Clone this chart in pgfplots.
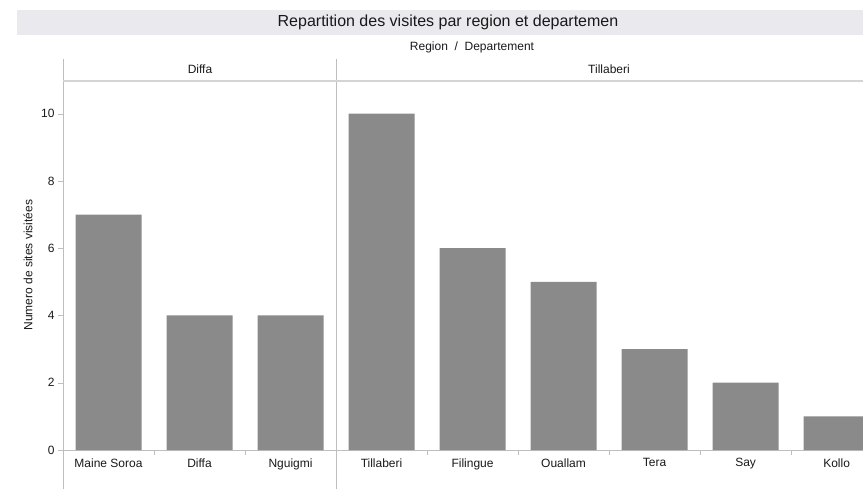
\documentclass[border=0pt]{standalone}
\usepackage{pgfplots}
\pgfplotsset{compat=1.18}
\usepackage{fontspec}
\setmainfont{Liberation Sans}

\definecolor{barfill}{RGB}{138,138,138}
\definecolor{rulegray}{RGB}{190,190,190}
\definecolor{hdrrule}{RGB}{212,212,212}
\definecolor{titlebg}{RGB}{233,233,238}
\definecolor{txt}{RGB}{25,25,25}

\begin{document}
\begin{tikzpicture}[x=1pt, y=1pt]
    \useasboundingbox (0,0) rectangle (863,-489);

    % --- title bar and panel headers ---
    \fill[titlebg] (17,-10) rectangle (863,-35);
    \node[txt, font=\fontsize{16}{18}\selectfont] at (448,-22.5) {Repartition des visites par region et departemen};
    \node[txt, font=\fontsize{12}{14}\selectfont] at (472,-47) {Region \ / \ Departement};
    \node[txt, font=\fontsize{12}{14}\selectfont] at (200,-69) {Diffa};
    \node[txt, font=\fontsize{12}{14}\selectfont] at (609,-69) {Tillaberi};

    % --- frame lines ---
    \draw[rulegray] (63,-59) -- (63,-489);
    \draw[rulegray] (336,-59) -- (336,-489);
    \draw[hdrrule, line width=2pt] (63,-81) -- (863,-81);
    \draw[rulegray] (58,-450) -- (863,-450);

    \node[txt, rotate=90, font=\fontsize{12}{14}\selectfont] at (28,-265) {Numero de sites visitées};

    \begin{axis}[
        at={(63pt,-450pt)}, anchor=south west,
        scale only axis,
        width=800pt, height=370pt,
        xmin=0, xmax=8.79,
        ymin=0, ymax=11,
        axis line style={draw=none},
        xtick pos=lower, ytick pos=left,
        ytick={0,2,4,6,8,10},
        xtick={0.5,1.5,2.5,3.5,4.5,5.5,6.5,7.5,8.5},
        xticklabels={Maine Soroa, Diffa, Nguigmi, Tillaberi, Filingue, Ouallam, Tera, Say, Kollo},
        minor xtick={1,2,3,4,5,6,7,8},
        tick align=outside,
        major tick length=5pt,
        minor tick length=5pt,
        major x tick style={draw=none},
        minor x tick style={rulegray},
        y tick style={rulegray},
        tick label style={font=\fontsize{12}{14}\selectfont, text=txt},
        /pgf/number format/assume math mode=true,
    ]
        \addplot[ybar, fill=barfill, draw=none, bar width=66pt] coordinates {
            (0.5,7) (1.5,4) (2.5,4)
            (3.5,10) (4.5,6) (5.5,5) (6.5,3) (7.5,2) (8.5,1)
        };
    \end{axis}
\end{tikzpicture}
\end{document}
